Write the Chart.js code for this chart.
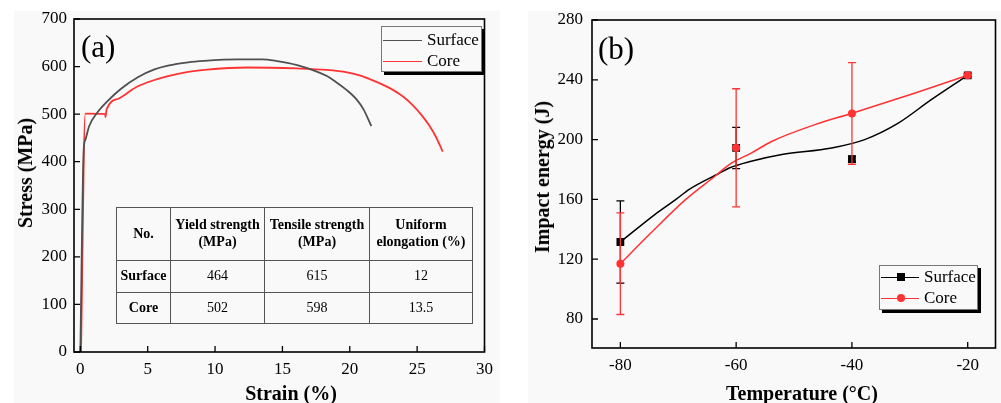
<!DOCTYPE html>
<html>
<head>
<meta charset="utf-8">
<script src="https://cdn.jsdelivr.net/npm/chart.js@4"></script>
<style>
  body { margin: 0; background: #fff; font-family: "Liberation Serif", "Times New Roman", serif; color: #000; }
  #wrap { position: relative; width: 1001px; height: 403px; overflow: hidden; }
  .panel { position: absolute; background: #f9f9f9; }
  canvas { position: absolute; top: 0; }
  .tag { position: absolute; font-size: 31px; line-height: 1; transform: translateY(-50%); }
  .xtitle, .ytitle { position: absolute; font-size: 20px; font-weight: bold; white-space: nowrap; line-height: 1.1; }
  .xtitle { transform: translate(-50%, -50%); }
  .ytitle { transform: translate(-50%, -50%) rotate(-90deg); }
  .legend { position: absolute; background: #f9f9f9; border: 1px solid #777; box-shadow: 3px 3px 0 #000; font-size: 17px; }
  .legend .row { position: absolute; left: 0; height: 20px; width: 100%; }
  .legend .line { position: absolute; top: 10px; height: 0; border-top: 1.6px solid; }
  .legend .mk { position: absolute; }
  .legend .txt { position: absolute; top: 0; line-height: 20px; }
  table { position: absolute; border-collapse: collapse; font-size: 14px; table-layout: fixed; }
  td { border: 1px solid #555; text-align: center; padding: 0; line-height: 1.2; }
  td.b { font-weight: bold; }
</style>
</head>
<body>
<div id="wrap">
  <div class="panel" style="left:14px;top:11px;width:486px;height:392px"></div>
  <div class="panel" style="left:528px;top:11px;width:473px;height:392px"></div>
  <canvas id="chartA" width="500" height="403" style="left:0"></canvas>
  <canvas id="chartB" width="501" height="403" style="left:500px"></canvas>

  <div class="tag" style="left:81px;top:46px">(a)</div>
  <div class="tag" style="left:598px;top:48px">(b)</div>

  <div class="ytitle" style="left:25px;top:173px">Stress (MPa)</div>
  <div class="xtitle" style="left:291px;top:393px">Strain (%)</div>
  <div class="ytitle" style="left:542px;top:177px">Impact energy (J)</div>
  <div class="xtitle" style="left:802px;top:393px">Temperature (°C)</div>

  <div class="legend" style="left:381px;top:26px;width:99px;height:44px">
    <div class="row" style="top:3px">
      <div class="line" style="left:1px;width:39px;border-color:#505050"></div>
      <div class="txt" style="left:45px">Surface</div>
    </div>
    <div class="row" style="top:24px">
      <div class="line" style="left:1px;width:39px;border-color:#ff3333"></div>
      <div class="txt" style="left:45px">Core</div>
    </div>
  </div>

  <div class="legend" style="left:879px;top:265px;width:97px;height:43px">
    <div class="row" style="top:1px">
      <div class="line" style="left:1px;width:38px;border-color:#000"></div>
      <div class="mk" style="left:17px;top:6px;width:8px;height:8px;background:#000"></div>
      <div class="txt" style="left:44px">Surface</div>
    </div>
    <div class="row" style="top:22px">
      <div class="line" style="left:1px;width:38px;border-color:#ff3333"></div>
      <div class="mk" style="left:17px;top:6px;width:8px;height:8px;border-radius:50%;background:#ff3333"></div>
      <div class="txt" style="left:44px">Core</div>
    </div>
  </div>

  <table id="props" style="left:116px;top:207px;width:352px"></table>
</div>

<script>
// (a) tensile curves
const strainTicks = [0, 5, 10, 15, 20, 25, 30];
const stressTicks = [0, 100, 200, 300, 400, 500, 600, 700];
const surfaceStrain = [0, 0.25, 0.37, 0.66, 1.25, 2.0, 3.0, 4.3, 5.5, 6.5, 8.0, 9.2, 11.7, 13.5, 14.5, 16.1, 17.6, 18.3, 19.0, 19.8, 20.5, 21.0, 21.6];
const surfaceStress = [0, 425, 446, 475, 503, 527, 553, 578, 594, 602, 609, 612, 615, 615, 612, 603, 589, 580, 567, 550, 531, 511, 475];
const coreStrain = [0.05, 0.37, 1.85, 1.87, 1.95, 2.87, 4.1, 5.0, 6.5, 8.0, 9.2, 12.4, 16.1, 18.3, 19.8, 20.8, 21.8, 22.6, 23.2, 24.0, 24.7, 25.3, 25.9, 26.4, 26.9];
const coreStress = [0, 501, 500, 494, 510, 533, 556, 567, 580, 589, 593, 598, 596, 593, 588, 581, 570, 560, 551, 536, 518, 499, 476, 452, 421];

// inset table
const tableHead = ["No.", "Yield strength<br>(MPa)", "Tensile strength<br>(MPa)", "Uniform<br>elongation (%)"];
const tableRows = [
    ["Surface", "464", "615", "12"],
    ["Core", "502", "598", "13.5"],
];

// (b) impact energy
const temps = [-80, -60, -40, -20];
const tempTicks = [-80, -60, -40, -20];
const energyTicks = [80, 120, 160, 200, 240, 280];
const surfaceEnergy = [131.5, 194.4, 187, 243];
const surfaceErr = [27.5, 13.8, 2, 1];
const coreEnergy = [117, 194.5, 217.5, 243];
const coreErr = [34, 39.5, 34, 1];
const surfaceFitT = [-80, -74, -70.4, -68.1, -63, -61.2, -57.4, -52.1, -43.5, -37.8, -32, -26.3, -20];
const surfaceFitE = [131.5, 150, 160, 166.7, 177.3, 181, 185.5, 190, 194.4, 200, 211, 226.7, 243];
const coreFitT = [-80, -75, -68.7, -63.5, -61.2, -57.4, -53.8, -46.4, -40.1, -29.2, -20];
const coreFitE = [117, 136.5, 160, 176, 183.3, 191, 198.9, 210, 217.5, 231, 243];

const RED = "#ff3333";
const tickFont = { family: "Liberation Serif", size: 17 };

// table markup
const tbl = document.getElementById("props");
const colW = [53, 93, 104, 102];
let html = "<tr style='height:53px'>" + tableHead.map((h, i) => `<td class="b" style="width:${colW[i]}px">${h}</td>`).join("") + "</tr>";
tableRows.forEach((r, k) => {
    html += `<tr style="height:${k ? 31 : 32}px">` + r.map((v, i) => `<td${i ? "" : ' class="b"'}>${v}</td>`).join("") + "</tr>";
});
tbl.innerHTML = html;

const zip = (xs, ys) => xs.map((x, i) => ({ x, y: ys[i] }));

// box round the plot plus inward tick marks
const frame = {
    id: "frame",
    afterDraw(chart) {
        const { ctx, chartArea: a, scales: { x, y } } = chart;
        ctx.save();
        ctx.strokeStyle = "#000";
        ctx.lineWidth = 1.6;
        ctx.strokeRect(a.left, a.top, a.right - a.left, a.bottom - a.top);
        ctx.lineWidth = 1.3;
        ctx.beginPath();
        x.ticks.forEach((t) => {
            const p = x.getPixelForValue(t.value);
            ctx.moveTo(p, a.bottom);
            ctx.lineTo(p, a.bottom - 6);
        });
        y.ticks.forEach((t) => {
            const p = y.getPixelForValue(t.value);
            ctx.moveTo(a.left, p);
            ctx.lineTo(a.left + 6, p);
        });
        ctx.stroke();
        ctx.restore();
    },
};

const errorBars = {
    id: "errorBars",
    afterDatasetDraw(chart, args) {
        const ds = chart.data.datasets[args.index];
        if (!ds.errors) return;
        const { ctx, scales: { x, y } } = chart;
        ctx.save();
        ctx.strokeStyle = ds.borderColor;
        ctx.lineWidth = 1.3;
        ctx.beginPath();
        ds.data.forEach((p, i) => {
            const px = x.getPixelForValue(p.x);
            const top = y.getPixelForValue(p.y + ds.errors[i]);
            const bot = y.getPixelForValue(p.y - ds.errors[i]);
            ctx.moveTo(px, top);
            ctx.lineTo(px, bot);
            ctx.moveTo(px - 4, top);
            ctx.lineTo(px + 4, top);
            ctx.moveTo(px - 4, bot);
            ctx.lineTo(px + 4, bot);
        });
        ctx.stroke();
        ctx.restore();
    },
};

function axis(min, max, ticks, size, isX, pad) {
    return {
        type: "linear",
        min,
        max,
        afterBuildTicks: (s) => { s.ticks = ticks.map((v) => ({ value: v })); },
        afterFit: (s) => { if (isX) s.height = size; else s.width = size; },
        grid: { display: false, drawTicks: false },
        border: { display: false },
        ticks: { font: tickFont, color: "#000", padding: pad, autoSkip: false, maxRotation: 0 },
    };
}

new Chart(document.getElementById("chartA"), {
    type: "line",
    data: {
        datasets: [
            {
                label: "Surface",
                data: zip(surfaceStrain, surfaceStress),
                borderColor: "#505050",
                borderWidth: 1.8,
                pointRadius: 0,
                cubicInterpolationMode: "monotone",
            },
            {
                label: "Core",
                data: zip(coreStrain, coreStress),
                borderColor: RED,
                borderWidth: 1.8,
                pointRadius: 0,
                cubicInterpolationMode: "monotone",
            },
        ],
    },
    options: {
        responsive: false,
        animation: false,
        devicePixelRatio: 1,
        layout: { padding: { top: 19, right: 10.5, left: 0, bottom: 0 } },
        plugins: { legend: { display: false }, tooltip: { enabled: false } },
        scales: {
            x: axis(-0.47, 30, strainTicks, 51, true, 7),
            y: axis(0, 700, stressTicks, 74, false, 7),
        },
    },
    plugins: [frame],
});

new Chart(document.getElementById("chartB"), {
    type: "line",
    data: {
        datasets: [
            {
                label: "Core",
                data: zip(temps, coreEnergy),
                errors: coreErr,
                borderColor: RED,
                backgroundColor: RED,
                showLine: false,
                pointStyle: "circle",
                pointRadius: 4,
                pointBorderWidth: 0,
                order: 0,
            },
            {
                label: "Surface",
                data: zip(temps, surfaceEnergy),
                errors: surfaceErr,
                borderColor: "#000",
                backgroundColor: "#000",
                showLine: false,
                pointStyle: "rect",
                pointRadius: 5.5,
                pointBorderWidth: 0,
                order: 1,
            },
            {
                data: zip(coreFitT, coreFitE),
                borderColor: RED,
                borderWidth: 1.5,
                pointRadius: 0,
                cubicInterpolationMode: "monotone",
                order: 2,
            },
            {
                data: zip(surfaceFitT, surfaceFitE),
                borderColor: "#000",
                borderWidth: 1.5,
                pointRadius: 0,
                cubicInterpolationMode: "monotone",
                order: 3,
            },
        ],
    },
    options: {
        responsive: false,
        animation: false,
        devicePixelRatio: 1,
        layout: { padding: { top: 20, right: 3, left: 0, bottom: 0 } },
        plugins: { legend: { display: false }, tooltip: { enabled: false } },
        scales: {
            x: axis(-84.9, -15.2, tempTicks, 55, true, 7),
            y: axis(60.6, 280, energyTicks, 92, false, 9),
        },
    },
    plugins: [frame, errorBars],
});
</script>
</body>
</html>
